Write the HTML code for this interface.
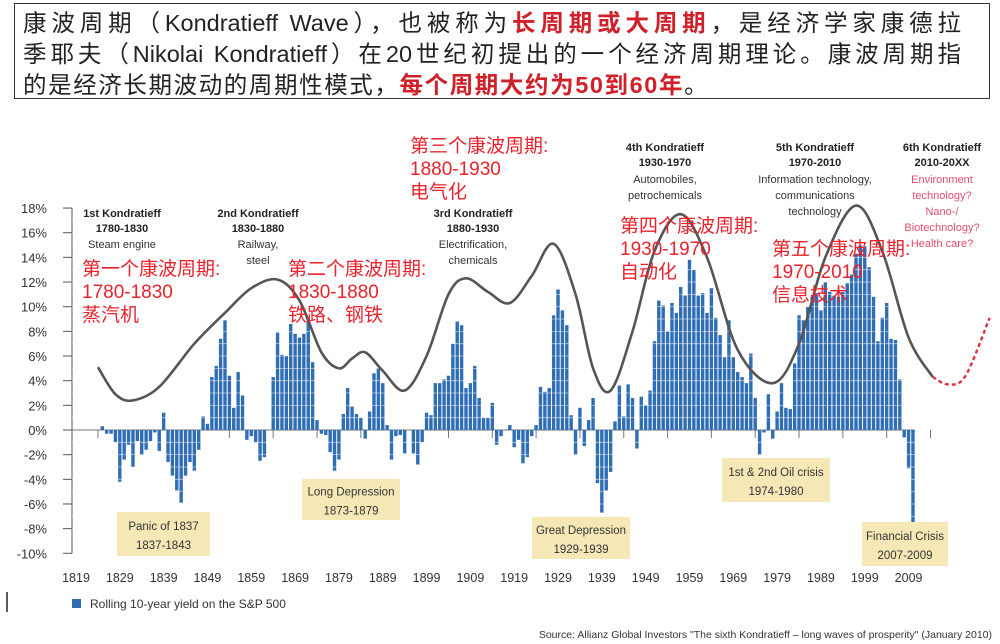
<!DOCTYPE html>
<html><head><meta charset="utf-8"><style>
body{margin:0;background:#fff;width:1000px;height:644px;overflow:hidden;font-family:"Liberation Sans","Noto Sans CJK SC",sans-serif}
#title{position:absolute;left:14px;top:3px;width:976px;height:96px;border:1.5px solid #333;box-sizing:border-box;padding:4px 0 0 8px;font-size:23.5px;line-height:31px;color:#222;font-family:"Liberation Sans","Noto Sans CJK SC",sans-serif}
#title div{white-space:nowrap}
#title .j{width:938px;text-align:justify;text-align-last:justify;white-space:normal;height:31px;overflow:hidden}
#title .l3{letter-spacing:1.6px}
.r{color:#d0202a;font-weight:bold}
</style></head><body>
<div id="title"><div class="j">康波周期（Kondratieff Wave），也被称为<span class="r">长周期或大周期</span>，是经济学家康德拉</div><div class="j">季耶夫（Nikolai Kondratieff）在20世纪初提出的一个经济周期理论。康波周期指</div><div class="l3">的是经济长期波动的周期性模式，<span class="r">每个周期大约为50到60年</span>。</div></div>
<svg id="chart" width="1000" height="644" style="position:absolute;left:0;top:0" font-family="Liberation Sans, Noto Sans CJK SC, sans-serif"></svg>
<script>
const startYear=1825;
const yields=[0.3,-0.3,-0.3,-1.0,-4.2,-2.4,-1.2,-3.0,-0.9,-2.0,-1.6,-0.9,-0.2,-1.7,1.4,-2.6,-3.7,-4.9,-5.9,-3.7,-2.6,-3.3,-1.6,1.1,0.5,4.3,5.2,7.4,8.9,4.4,1.8,4.7,2.8,-0.8,-0.5,-1.0,-2.5,-2.2,0,4.3,7.9,6.1,6.0,8.6,7.8,7.5,7.8,8.9,5.5,0.8,-0.3,-0.4,-1.8,-3.3,-2.4,1.3,3.4,1.9,1.3,1.0,-0.7,1.5,4.6,5.0,3.8,0.4,-2.4,-0.5,-0.4,-1.9,0,-1.9,-2.8,-1.0,1.4,1.2,3.8,3.8,4.1,4.4,7.0,8.8,8.5,3.4,3.8,5.2,2.6,1.0,1.0,2.2,-1.2,-0.5,0,0.4,-1.4,-0.8,-2.7,-2.2,-0.5,0.4,3.5,3.1,3.4,9.3,11.4,9.7,8.5,1.2,-2.0,1.8,-1.3,0.8,2.6,-4.3,-6.7,-4.9,-3.4,0.7,3.6,1.1,3.7,2.6,-1.5,2.7,2.0,3.2,7.2,10.5,10.1,8.0,10.3,9.5,11.6,10.9,13.8,13.0,10.9,11.1,9.5,11.5,9.1,7.7,5.9,8.9,5.9,4.7,4.3,3.8,6.2,2.6,-2.0,-0.2,2.9,-0.7,1.5,3.8,1.8,1.7,5.4,9.3,8.9,10.0,10.8,11.1,9.7,12.0,11.2,10.9,10.8,11.2,11.9,12.6,14.3,15.0,14.9,13.2,10.8,7.2,9.1,10.3,7.4,7.3,4.1,-0.6,-3.1,-7.5];
const waveYears=[1824,1828,1832,1838,1846,1853,1859,1865,1870,1875,1879,1882,1885,1889,1894,1899,1904,1908,1913,1918,1923,1928,1933,1937,1941,1946,1951,1957,1963,1970,1978,1984,1990,1997,2003,2009,2014.5];
const waveValues=[5.1,2.9,2.4,3.5,7.0,9.5,11.5,12.2,10.5,6.3,5.0,5.8,6.3,4.8,3.2,6.0,11.0,12.3,11.2,10.3,12.5,15.1,11.0,5.0,3.2,8.0,14.5,17.5,14.0,6.5,3.8,7.0,14.0,18.2,14.5,7.5,4.3];
const forecastYears=[2014.5,2018,2022,2027.5];
const forecastValues=[4.3,3.7,4.4,9.1];
const yTicks=[18,16,14,12,10,8,6,4,2,0,-2,-4,-6,-8,-10];
const xTicks=[1819,1829,1839,1849,1859,1869,1879,1889,1899,1909,1919,1929,1939,1949,1959,1969,1979,1989,1999,2009];

const svg=document.getElementById('chart');
const NS='http://www.w3.org/2000/svg';
const X=y=>76+(y-1819)*4.382;
const Y=v=>430-v*12.33;
function mk(tag,at,parent){const e=document.createElementNS(NS,tag);for(const k in at)e.setAttribute(k,at[k]);(parent||svg).appendChild(e);return e;}
function txt(x,y,s,at){const e=mk('text',Object.assign({x:x,y:y},at||{}));e.textContent=s;return e;}

const ax=mk('line',{x1:72,y1:Y(18),x2:72,y2:Y(-10),stroke:'#555','stroke-width':1});


yTicks.forEach(v=>{
  const t=mk('line',{x1:63,y1:Y(v),x2:72,y2:Y(v),stroke:'#555','stroke-width':1});
  
  
  const l=txt(47,Y(v)+5,v+'%',{'text-anchor':'end','font-size':13,fill:'#333'});
  
  
});
const z=mk('line',{x1:72,y1:Y(0),x2:915,y2:Y(0),stroke:'#777','stroke-width':1});


xTicks.forEach(yr=>{
  const t=mk('line',{x1:X(yr+5),y1:Y(0),x2:X(yr+5),y2:Y(0)+8,stroke:'#777','stroke-width':1});
  
  
  const l=txt(X(yr),582,String(yr),{'text-anchor':'middle','font-size':12.5,fill:'#333'});
  
  
});
yields.forEach((v,i)=>{
  const yr=startYear+i;
  const b=mk('rect',{x:X(yr)-1.7,y:Math.min(Y(v),Y(0)),width:3.4,height:Math.abs(Y(v)-Y(0)),fill:'#2f6db4'});
  
  
});
for(let v=-9;v<=17;v+=1){if(v===0)continue;mk('line',{x1:72,y1:Y(v),x2:915,y2:Y(v),stroke:'#fff','stroke-width':0.8,opacity:0.6});}
function spline(xs,ys){let p=xs.map((x,i)=>[X(x),Y(ys[i])]);let d='M'+p[0][0]+','+p[0][1];
 for(let i=0;i<p.length-1;i++){const p0=p[i-1]||p[i],p1=p[i],p2=p[i+1],p3=p[i+2]||p2;
  d+=' C'+(p1[0]+(p2[0]-p0[0])/6)+','+(p1[1]+(p2[1]-p0[1])/6)+' '+(p2[0]-(p3[0]-p1[0])/6)+','+(p2[1]-(p3[1]-p1[1])/6)+' '+p2[0]+','+p2[1];}
 return d;}
const w=mk('path',{d:spline(waveYears,waveValues),fill:'none',stroke:'#555','stroke-width':2.6});


const f=mk('path',{d:spline(forecastYears,forecastValues),fill:'none',stroke:'#e03040','stroke-width':2.4,'stroke-dasharray':'4,3'});



function block(cx,y0,lines,name,anchor){const g=mk('g',{});
 lines.forEach((l,i)=>{const t=mk('text',{x:cx,y:y0+l[1],'text-anchor':anchor||'middle','font-size':l[2],fill:l[3]||'#333','font-weight':l[4]||'normal'},g);t.textContent=l[0];});}
block(122,217,[['1st Kondratieff',0,11,'#222','bold'],['1780-1830',15,11,'#222','bold'],['Steam engine',31,11]],'first-kondratieff-label');
block(258,217,[['2nd Kondratieff',0,11,'#222','bold'],['1830-1880',15,11,'#222','bold'],['Railway,',31,11],['steel',47,11]],'second-kondratieff-label');
block(473,217,[['3rd Kondratieff',0,11,'#222','bold'],['1880-1930',15,11,'#222','bold'],['Electrification,',31,11],['chemicals',47,11]],'third-kondratieff-label');
block(665,151,[['4th Kondratieff',0,11,'#222','bold'],['1930-1970',15,11,'#222','bold'],['Automobiles,',32,11],['petrochemicals',48,11]],'fourth-kondratieff-label');
block(815,151,[['5th Kondratieff',0,11,'#222','bold'],['1970-2010',15,11,'#222','bold'],['Information technology,',32,11],['communications',48,11],['technology',64,11]],'fifth-kondratieff-label');
block(942,151,[['6th Kondratieff',0,11,'#222','bold'],['2010-20XX',15,11,'#222','bold'],['Environment',32,11,'#e0506a'],['technology?',48,11,'#e0506a'],['Nano-/',64,11,'#e0506a'],['Biotechnology?',80,11,'#e0506a'],['Health care?',96,11,'#e0506a']],'sixth-kondratieff-label');
const red='#e8232d';
block(82,275,[['第一个康波周期:',0,19,red],['1780-1830',23,19,red],['蒸汽机',46,19,red]],'first-wave-cn-note','start');
block(288,275,[['第二个康波周期:',0,19,red],['1830-1880',23,19,red],['铁路、钢铁',46,19,red]],'second-wave-cn-note','start');
block(410,152,[['第三个康波周期:',0,19,red],['1880-1930',23,19,red],['电气化',46,19,red]],'third-wave-cn-note','start');
block(620,232,[['第四个康波周期:',0,19,red],['1930-1970',23,19,red],['自动化',46,19,red]],'fourth-wave-cn-note','start');
block(772,255,[['第五个康波周期:',0,19,red],['1970-2010',23,19,red],['信息技术',46,19,red]],'fifth-wave-cn-note','start');

function ev(x,y,w,h,a,b,name){const g=mk('g',{});
 mk('rect',{x:x,y:y,width:w,height:h,fill:'#f6e8b6'},g);
 let t=mk('text',{x:x+w/2,y:y+h/2-4,'text-anchor':'middle','font-size':11.5,fill:'#333'},g);t.textContent=a;
 t=mk('text',{x:x+w/2,y:y+h/2+15,'text-anchor':'middle','font-size':11.5,fill:'#333'},g);t.textContent=b;}
ev(117,512,93,44,'Panic of 1837','1837-1843','panic-1837-box');
ev(302,479,98,41,'Long Depression','1873-1879','long-depression-box');
ev(532,517,98,42,'Great Depression','1929-1939','great-depression-box');
ev(722,458,108,44,'1st & 2nd Oil crisis','1974-1980','oil-crisis-box');
ev(862,522,86,44,'Financial Crisis','2007-2009','financial-crisis-box');

const lg=mk('g',{});
mk('rect',{x:72,y:599,width:9,height:9,fill:'#2f6db4'},lg);
let lt=mk('text',{x:90,y:608,'font-size':12,fill:'#333'},lg);lt.textContent='Rolling 10-year yield on the S&P 500';
const src=txt(992,638,'Source: Allianz Global Investors "The sixth Kondratieff – long waves of prosperity" (January 2010)',{'text-anchor':'end','font-size':10.5,fill:'#333'});


const cur=mk('line',{x1:7,y1:592,x2:7,y2:612,stroke:'#222','stroke-width':1.5});


</script>
</body></html>
